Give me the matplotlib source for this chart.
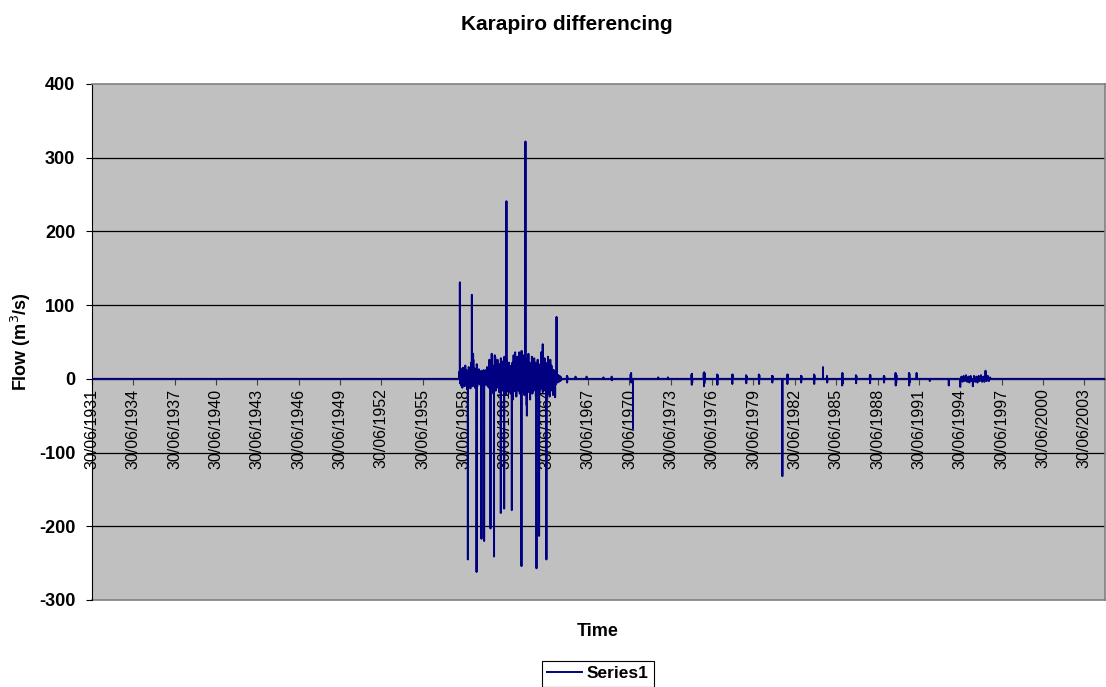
import numpy as np
import pandas as pd
import matplotlib
matplotlib.use('Agg')
import matplotlib.pyplot as plt
import matplotlib.dates as mdates

plt.rcParams['font.family'] = ['Liberation Sans', 'DejaVu Sans']
plt.rcParams['axes.unicode_minus'] = False

# daily differenced flow, zero apart from the events listed below
start_date = '1931-06-30'
end_date = '2004-12-31'

# big spikes (m3/s)
spike_dates = ['1958-03-10', '1958-10-08', '1959-01-22', '1959-02-24', '1959-05-26',
               '1959-10-04', '1959-12-13', '1960-05-30', '1960-09-01', '1960-09-20',
               '1961-02-27', '1961-05-27', '1961-07-27', '1961-12-16', '1962-03-14',
               '1962-08-29', '1962-12-13', '1963-01-19', '1963-10-01', '1963-12-09',
               '1964-03-14', '1964-06-20', '1964-08-07', '1965-02-06', '1965-03-15',
               '1970-10-01', '1981-08-04', '1984-07-16']
spike_values = [131, -245, 114, 34, -262,
                -217, -220, -203, -241, 32,
                -182, -176, 241, -178, 36,
                -254, 322, -50, -257, -213,
                47, -245, 25, -25, 84,
                -68, -132, 16]

# twice-monthly noise during the 1958-1965 period
noise_start = '1958-03-01'
noise_values = [10, -6, 14, -9, 8, -12, 15, -7,
                9, -10, 18, -6, 12, -14, 7, -9, 16, -5, 10, -13,
                22, -8, 12, -10, 26, -7, 14, -12, 9, -6, 20, -10,
                10, -5, 13, -7, 6, -9, 11, -4, 8, -10, 12, -6,
                7, -8, 12, -6, 16, -10, 9, -12, 26, -8, 14, -11,
                34, -14, 18, -20, 24, -10, 30, -16, 12, -8, 26, -12,
                14, -18, 20, -9, 28, -13, 10, -16, 24, -8, 30, -14,
                16, -22, 26, -11, 12, -18, 22, -10, 9, -20, 18, -12,
                22, -28, 32, -14, 26, -17, 18, -24, 30, -12, 24, -16,
                36, -20, 28, -30, 38, -14, 24, -18, 32, -22, 40, -12,
                26, -36, 20, -12, 34, -18, 22, -28, 16, -10, 30, -20,
                14, -16, 28, -10, 22, -24, 18, -12, 26, -14, 20, -22,
                18, -14, 36, -12, 24, -18, 16, -10, 28, -16, 22, -20,
                20, -10, 30, -20, 14, -24, 26, -12, 18, -16, 12, -22,
                12, -14, 9, -8, 7, -6, 6, -5, 5, -4, 4, -3,
                3, -2]

# small clusters after 1965
blob_dates = ['1965-12-15', '1966-08-01', '1967-05-20', '1968-08-10', '1969-03-15',
              '1970-08-01', '1972-08-01', '1973-04-15', '1975-01-01', '1975-11-20',
              '1976-11-10', '1977-12-10', '1978-12-15', '1979-11-20', '1980-11-05',
              '1981-12-10', '1982-12-10', '1983-11-20', '1984-10-30', '1985-12-01',
              '1986-12-05', '1987-12-10', '1988-12-15', '1989-10-20', '1990-10-10',
              '1991-05-01', '1992-04-15', '1993-09-01']
blob_values = [[4, -5, 3], [3], [3], [2], [3, -2],
               [6, -4, 8, -5], [2], [2], [6, -8, 7, -5], [8, -10, 9, -6, 7],
               [6, -8, 5], [5, -7, 6], [5, -6, 4], [6, -7, 5], [4, -5, 4],
               [5, -7, 6], [4, -5, 4], [6, -7, 5], [4, -5], [7, -9, 8, -6],
               [5, -6, 4], [5, -6, 5], [4, -5, 3], [8, -9, 7, -6, 5], [8, -9, 7, -5],
               [8], [-3], [-9]]

# monthly small values 1994-1996
band_start = '1994-07-01'
band_values = [-11, 3, -4, 4, -3, 5, -4, 3, -5, 4, -3, -10, 4, -4,
               3, -5, 4, -3, 5, -4, 3, -4, 11, -3, 4, -3, 2]

days = pd.date_range(start_date, end_date, freq='D')
flow = pd.Series(0.0, index=days)
for d, v in zip(pd.date_range(noise_start, periods=len(noise_values), freq='SMS'), noise_values):
    flow[d] = v
for d, v in zip(pd.date_range(band_start, periods=len(band_values), freq='MS'), band_values):
    flow[d] = v
for d, vals in zip(blob_dates, blob_values):
    for i, v in enumerate(vals):
        flow[pd.Timestamp(d) + pd.Timedelta(days=6 * i)] = v
for d, v in zip(spike_dates, spike_values):
    flow[pd.Timestamp(d)] = v

fig = plt.figure(figsize=(11.06, 6.87), dpi=100)
ax = fig.add_axes([92 / 1106, 87 / 687, 1013 / 1106, 516 / 687])
ax.set_facecolor('#c0c0c0')

ax.plot(flow.index, flow.values, color='#000080', lw=1.4, zorder=3, label='Series1')

ax.set_ylim(-300, 400)
ax.set_yticks(np.arange(-300, 401, 100))
for yv in range(-200, 301, 100):
    ax.axhline(yv, color='black', lw=0.9, zorder=1)
ax.axhline(-300, color='#808080', lw=1.2, zorder=1, clip_on=False)

ax.set_xlim(pd.Timestamp(start_date), pd.Timestamp('2005-01-01'))
xticks = [pd.Timestamp(year=y, month=6, day=30) for y in range(1931, 2004, 3)]
ax.set_xticks(xticks)
ax.xaxis.set_major_formatter(mdates.DateFormatter('%d/%m/%Y'))

ax.spines['bottom'].set_position(('data', 0))
ax.spines['bottom'].set_color('#404040')
ax.spines['left'].set_color('black')
ax.spines['top'].set_color('#808080')
ax.spines['right'].set_color('#808080')
ax.spines['top'].set_linewidth(1.2)
ax.spines['right'].set_linewidth(1.2)

ax.tick_params(axis='x', direction='out', length=4, color='#404040', pad=3,
               labelsize=11.5, labelrotation=90)
ax.tick_params(axis='y', direction='out', length=4, color='black', pad=8, labelsize=13)
for lbl in ax.get_yticklabels():
    lbl.set_fontweight('bold')

ax.set_ylabel('Flow (m$^3$/s)', fontsize=13, fontweight='bold', labelpad=4)
fig.text(598 / 1106, 1 - 632 / 687, 'Time', ha='center', va='center',
         fontsize=13, fontweight='bold')
fig.text(567 / 1106, 1 - 25 / 687, 'Karapiro differencing', ha='center', va='center',
         fontsize=15, fontweight='bold')

leg = fig.legend(loc='upper center', bbox_to_anchor=(598 / 1106, 1 - 661 / 687),
                 fancybox=False, edgecolor='black', framealpha=1, borderaxespad=0,
                 handlelength=2.0, handletextpad=0.3, borderpad=0.3,
                 prop={'weight': 'bold', 'size': 12.5})
leg.get_frame().set_linewidth(0.8)

fig.savefig('out.png', dpi=100)
